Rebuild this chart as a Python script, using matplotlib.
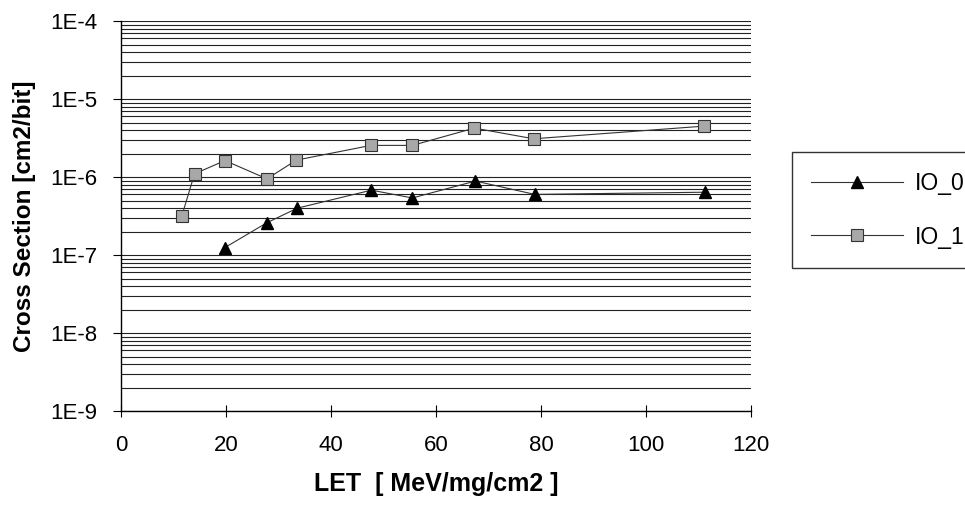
import matplotlib.pyplot as plt
import numpy as np
from matplotlib.ticker import FuncFormatter, LogLocator, NullFormatter

plt.rcParams['font.family'] = ['Liberation Sans', 'DejaVu Sans']

# LET values and cross sections
let_io0 = [19.8, 27.8, 33.6, 47.7, 55.5, 67.5, 78.8, 111.2]
cs_io0 = [1.25e-7, 2.6e-7, 4.0e-7, 6.8e-7, 5.4e-7, 8.9e-7, 6.0e-7, 6.4e-7]

let_io1 = [11.6, 14.0, 19.8, 27.8, 33.4, 47.6, 55.5, 67.3, 78.6, 111.0]
cs_io1 = [3.2e-7, 1.1e-6, 1.63e-6, 9.5e-7, 1.65e-6, 2.55e-6, 2.55e-6, 4.25e-6, 3.1e-6, 4.5e-6]

fig = plt.figure(figsize=(9.65, 5.07), dpi=100)
ax = fig.add_axes([0.1254, 0.1893, 0.6528, 0.769])

ax.set_yscale('log')
ax.set_ylim(1e-9, 1e-4)
ax.set_xlim(0, 120)

ax.yaxis.set_major_locator(LogLocator(base=10, numticks=10))
ax.yaxis.set_minor_locator(LogLocator(base=10, subs=np.arange(2, 10), numticks=20))
ax.yaxis.set_minor_formatter(NullFormatter())
ax.yaxis.set_major_formatter(FuncFormatter(lambda v, p: "1E%d" % int(round(np.log10(v)))))
ax.set_xticks(np.arange(0, 121, 20))

ax.grid(True, which='both', axis='y', color='#222222', linewidth=0.8)
ax.set_axisbelow(True)

ax.plot(let_io0, cs_io0, color='#333333', linewidth=0.8, marker='^', markersize=9,
        markerfacecolor='black', markeredgecolor='black', label='IO_0')
ax.plot(let_io1, cs_io1, color='#333333', linewidth=0.8, marker='s', markersize=8,
        markerfacecolor='#a8a8a8', markeredgecolor='#333333', markeredgewidth=0.8,
        label='IO_1')

for s in ['top', 'right']:
    ax.spines[s].set_visible(False)
ax.spines['left'].set_linewidth(1)
ax.spines['bottom'].set_linewidth(1)

ax.tick_params(axis='y', which='major', direction='out', length=6, labelsize=16, pad=11)
ax.tick_params(axis='y', which='minor', length=0)
ax.tick_params(axis='x', direction='inout', length=8, labelsize=16, pad=13)

ax.set_ylabel('Cross Section [cm2/bit]', fontsize=17.5, fontweight='bold', labelpad=10)
ax.set_xlabel('LET  [ MeV/mg/cm2 ]', fontsize=18, fontweight='bold', labelpad=12)

leg = fig.legend(loc='upper left', bbox_to_anchor=(0.8207, 0.700), borderaxespad=0,
                 fontsize=16.5, handlelength=4.0, frameon=True, fancybox=False,
                 edgecolor='black', borderpad=0.85, labelspacing=1.35, handletextpad=0.5)
leg.get_frame().set_linewidth(1)

fig.savefig('out.png', dpi=100)
